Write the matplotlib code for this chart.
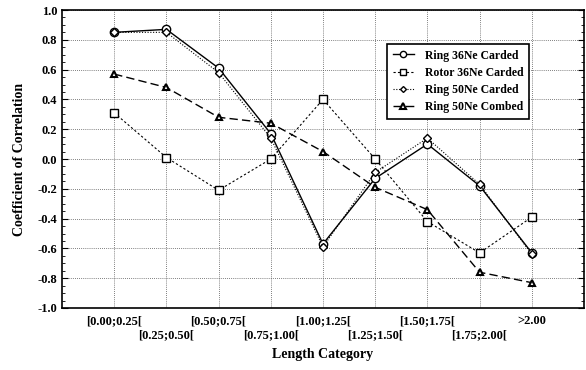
import matplotlib.pyplot as plt
import numpy as np

plt.rcParams['font.family'] = ['Liberation Serif', 'DejaVu Serif']
plt.rcParams['font.weight'] = 'bold'

categories = ['[0.00;0.25[', '[0.25;0.50[', '[0.50;0.75[', '[0.75;1.00[',
              '[1.00;1.25[', '[1.25;1.50[', '[1.50;1.75[', '[1.75;2.00[', '>2.00']
ring36_carded = [0.85, 0.87, 0.61, 0.17, -0.57, -0.13, 0.10, -0.18, -0.63]
rotor36_carded = [0.31, 0.01, -0.21, 0.00, 0.40, 0.00, -0.42, -0.63, -0.39]
ring50_carded = [0.85, 0.85, 0.58, 0.14, -0.59, -0.09, 0.14, -0.17, -0.64]
ring50_combed = [0.57, 0.48, 0.28, 0.24, 0.05, -0.19, -0.34, -0.76, -0.83]

x = np.arange(1, len(categories) + 1)

fig = plt.figure(figsize=(5.86, 3.70), dpi=100)
ax = fig.add_axes([62 / 586, 1 - 308 / 370, 522 / 586, 298 / 370])

ax.plot(x, ring36_carded, color='black', lw=1, ls='-', marker='o', ms=6,
        mfc='white', mec='black', label='Ring 36Ne Carded')
ax.plot(x, rotor36_carded, color='black', lw=0.8, ls=(0, (2, 2)), marker='s', ms=6,
        mfc='white', mec='black', label='Rotor 36Ne Carded')
ax.plot(x, ring50_carded, color='black', lw=0.8, ls=(0, (1, 1.5)), marker='D', ms=4,
        mfc='white', mec='black', label='Ring 50Ne Carded')
ax.plot(x, ring50_combed, color='black', lw=1, ls=(0, (6, 3)), marker='^', ms=5,
        mfc='white', mec='black', mew=1.5, label='Ring 50Ne Combed')

yt = np.round(np.arange(-1.0, 1.01, 0.2), 1)
ax.set_xlim(0, 10)
ax.set_ylim(-1.0, 1.0)
ax.set_yticks(yt)
ax.set_yticklabels(['%.1f' % (v + 0.0) for v in yt])
ax.set_yticks(np.arange(-1.0, 1.01, 0.05), minor=True)
ax.set_xticks(x)
ax.set_xticklabels([c if i % 2 == 0 else '\n' + c for i, c in enumerate(categories)],
                   fontsize=9, fontweight='bold')
ax.tick_params(axis='y', labelsize=9, direction='in', which='both', right=True)
ax.tick_params(axis='y', which='major', length=4)
ax.tick_params(axis='y', which='minor', length=2)
ax.tick_params(axis='x', length=0, pad=5)
ax.grid(True, color='#555555', ls=(0, (1, 1.5)), lw=0.6)
for s in ax.spines.values():
    s.set_linewidth(1.2)

ax.set_xlabel('Length Category', fontsize=10, fontweight='bold', labelpad=5)
ax.set_ylabel('Coefficient of Correlation', fontsize=10, fontweight='bold', labelpad=8)

leg = ax.legend(loc='upper right', bbox_to_anchor=(0.905, 0.905), fontsize=8.5,
                frameon=True, fancybox=False, edgecolor='black', framealpha=1,
                handlelength=1.8, markerscale=0.75, borderpad=0.45,
                labelspacing=0.45, handletextpad=0.9)
leg.get_frame().set_linewidth(1.2)
for t in leg.get_texts():
    t.set_fontweight('bold')

fig.savefig('out.png', dpi=100)
